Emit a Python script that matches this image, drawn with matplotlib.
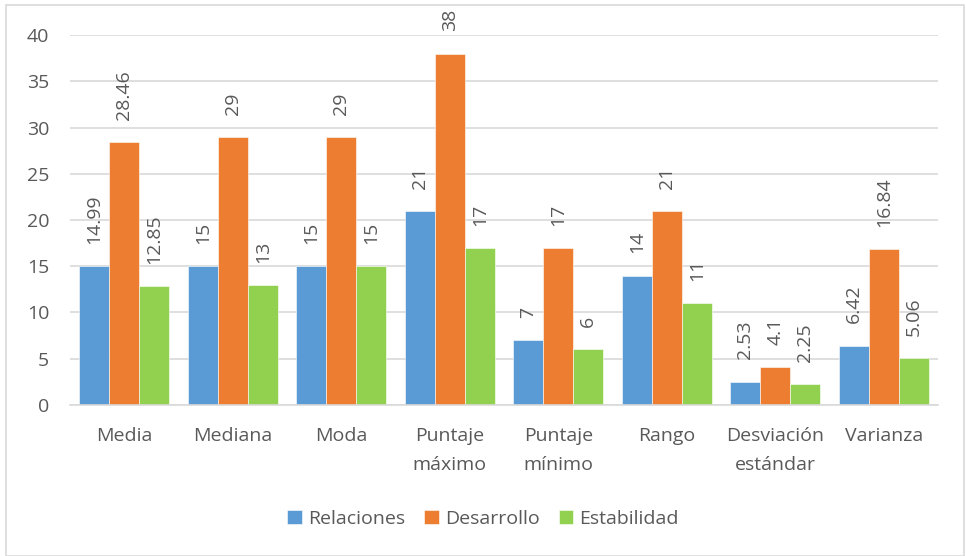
import numpy as np
import matplotlib.pyplot as plt
from matplotlib.patches import Rectangle

plt.rcParams['font.family'] = ['Open Sans', 'DejaVu Sans']

categories = ['Media', 'Mediana', 'Moda', 'Puntaje\nmáximo', 'Puntaje\nmínimo',
              'Rango', 'Desviación\nestándar', 'Varianza']
relaciones = [14.99, 15, 15, 21, 7, 14, 2.53, 6.42]
desarrollo = [28.46, 29, 29, 38, 17, 21, 4.1, 16.84]
estabilidad = [12.85, 13, 15, 17, 6, 11, 2.25, 5.06]

series = [('Relaciones', relaciones, '#5B9BD5'),
          ('Desarrollo', desarrollo, '#ED7D31'),
          ('Estabilidad', estabilidad, '#92D050')]

text_col = '#595959'
grid_col = '#D9D9D9'
fs = 14

fig = plt.figure(figsize=(9.66, 5.56), dpi=100)
ax = fig.add_axes([0.0725, 0.2716, 0.8985, 0.6654])

# chart border
fig.patches.append(Rectangle((0.006, 0.0), 0.992, 0.991, transform=fig.transFigure,
                             fill=False, edgecolor='#D9D9D9', linewidth=1.2))

x = np.arange(len(categories))
w = 0.277
for i, (name, vals, col) in enumerate(series):
    pos = x + (i - 1) * w
    ax.bar(pos, vals, width=w, color=col, label=name, edgecolor='white', linewidth=0.4)
    for px, v in zip(pos, vals):
        ax.annotate(f'{v:g}', (px, v), xytext=(0, 16), textcoords='offset points',
                    rotation=90, ha='center', va='bottom', fontsize=fs, color=text_col)

ax.set_ylim(0, 40)
ax.set_xlim(-0.5, len(categories) - 0.5)
ax.set_yticks(range(0, 41, 5))
ax.set_xticks(x)
ax.set_xticklabels(categories, fontsize=fs, color=text_col, linespacing=1.75)
ax.tick_params(axis='y', labelsize=fs, labelcolor=text_col, length=0, pad=15)
ax.tick_params(axis='x', length=0, pad=16)
ax.grid(axis='y', color=grid_col, linewidth=1.2)
ax.set_axisbelow(True)
for s in ['top', 'right', 'left']:
    ax.spines[s].set_visible(False)
ax.spines['bottom'].set_color(grid_col)
ax.spines['bottom'].set_linewidth(1.2)

fig.legend(loc='center', bbox_to_anchor=(0.5, 0.067), ncol=3, frameon=False,
           fontsize=fs, labelcolor=text_col, handlelength=0.75, handleheight=0.75,
           handletextpad=0.3, columnspacing=1.0)

fig.savefig('out.png', dpi=100)
